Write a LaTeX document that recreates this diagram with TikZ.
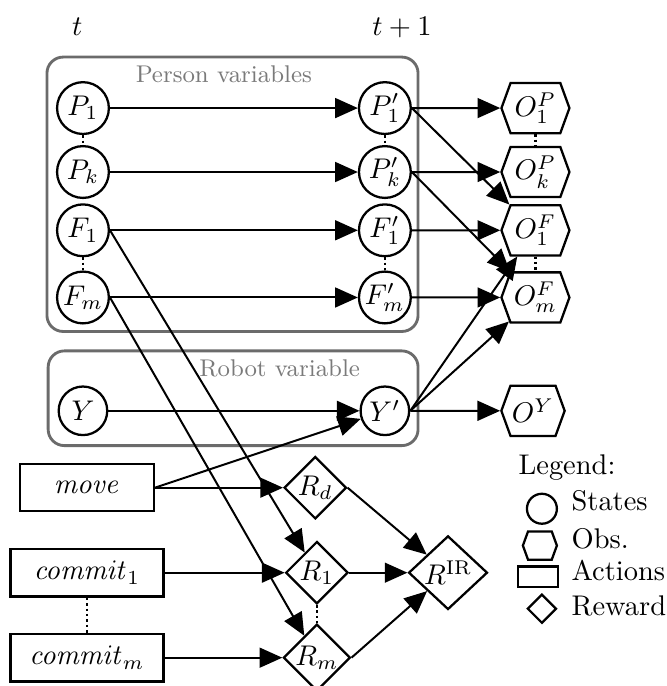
\documentclass[tikz,border=0pt]{standalone}
\usepackage{amsmath}
\usepackage{tikz}
\usetikzlibrary{positioning,arrows.meta,calc,shapes.geometric,shapes.symbols}
\definecolor{cGroup}{HTML}{6B6B6B}
\definecolor{cGroupTxt}{HTML}{7A7A7A}
\tikzset{
  state/.style={circle,draw,line width=0.8pt,minimum size=6.4mm,inner sep=0pt},
  obs/.style={signal,signal to=east and west,signal pointer angle=140,draw,line width=0.8pt,minimum width=8.4mm,minimum height=6.2mm,inner sep=0.5pt},
  act/.style={rectangle,draw,line width=0.8pt,minimum width=18.9mm,minimum height=5.9mm,inner sep=1pt},
  rew/.style={diamond,aspect=1,draw,line width=0.8pt,minimum size=7.7mm,inner sep=0pt},
  group/.style={rounded corners=2mm,draw=cGroup,line width=1pt},
  grplbl/.style={text=cGroupTxt,font=\fontsize{8.5}{10}\selectfont,inner sep=0pt},
  legtxt/.style={anchor=west,inner sep=0pt},
  arr/.style={-{Triangle[length=2.8mm,width=2.45mm]},line width=0.7pt},
  dotl/.style={densely dotted,line width=0.9pt}}
\begin{document}
\begin{tikzpicture}[on grid,node distance=7.9mm and 37.3mm]
\useasboundingbox (-10.25mm,13.35mm) rectangle (72.1mm,-71.4mm);
\node[state] (p1) at (0,0) {$P_1$};
\node[state, below=7.9mm of p1] (pk) {$P_k$};
\node[state, below=7.2mm of pk] (f1) {$F_1$};
\node[state, below=8.3mm of f1] (fm) {$F_m$};
\node[state, below=14mm of fm, minimum size=6mm] (y) {$Y$};
\node[state, right=of p1] (p1n) {$P'_1$};
\node[state, right=of pk] (pkn) {$P'_k$};
\node[state, right=of f1] (f1n) {$F'_1$};
\node[state, right=of fm] (fmn) {$F'_m$};
\node[state, right=of y, minimum size=6mm] (yn) {$Y'$};
\node[obs, right=18.6mm of p1n] (op1) {$O^P_1$};
\node[obs, right=18.6mm of pkn] (opk) {$O^P_k$};
\node[obs, right=18.6mm of f1n] (of1) {$O^F_1$};
\node[obs, right=18.6mm of fmn] (ofm) {$O^F_m$};
\node[obs, right=18.3mm of yn, minimum width=7.8mm] (oy) {$O^Y$};
\node[above=10mm of p1, xshift=-0.7mm] (tnow) {$t$};
\node[above=10mm of p1n, xshift=2.1mm] (tnext) {$t+1$};
\node[act, below=9.5mm of y, xshift=0.5mm, minimum width=16.5mm, minimum height=5.8mm] (move) {$\mathit{move}$};
\node[act, below=10.5mm of move] (com1) {$\mathit{commit}_1$};
\node[act, below=10.5mm of com1] (comm) {$\mathit{commit}_m$};
\node[rew, right=28.2mm of move] (rd) {$R_d$};
\node[rew, right=28.4mm of com1] (r1) {$R_1$};
\node[rew, right=28.4mm of comm] (rm) {$R_m$};
\node[rew, right=16.2mm of r1, minimum width=9.75mm, minimum height=9.1mm] (rir) {$R^{\mathrm{IR}}$};
\draw[group] ($(p1)+(-4.45mm,6.3mm)$) rectangle ($(fmn)+(4.1mm,-4.2mm)$);
\draw[group] ($(y)+(-4.3mm,7.4mm)$) rectangle ($(yn)+(4.1mm,-4.3mm)$);
\node[grplbl] (perlbl) at ($(p1)+(17.4mm,4.2mm)$) {Person variables};
\node[grplbl] (roblbl) at ($(y)+(24.3mm,5.3mm)$) {Robot variable};
\node (leg) at ($(oy)+(4.2mm,-7.05mm)$) {Legend:};
\node[state, minimum size=3.7mm] (lsta) at ($(leg)+(-3.1mm,-5.05mm)$) {};
\node[obs, minimum width=4.2mm, minimum height=3.5mm] (lobs) at ($(leg)+(-3.35mm,-9.6mm)$) {};
\node[act, minimum width=4.9mm, minimum height=2.5mm] (lact) at ($(leg)+(-3.6mm,-13.45mm)$) {};
\node[rew, minimum size=3.6mm] (lrew) at ($(leg)+(-3.1mm,-17.4mm)$) {};
\node[legtxt] (lstatxt) at ($(leg)+(0.5mm,-4.07mm)$) {States};
\node[legtxt] (lobstxt) at ($(leg)+(0.5mm,-8.77mm)$) {Obs.};
\node[legtxt] (lacttxt) at ($(leg)+(0.5mm,-12.7mm)$) {Actions};
\node[legtxt] (lrewtxt) at ($(leg)+(0.5mm,-17.05mm)$) {Reward};
\draw[arr] (p1)--(p1n); \draw[arr] (pk)--(pkn); \draw[arr] (f1)--(f1n); \draw[arr] (fm)--(fmn); \draw[arr] (y)--(yn);
\draw[arr] (p1n)--(op1); \draw[arr] (pkn)--(opk); \draw[arr] (f1n)--(of1); \draw[arr] (fmn)--(ofm); \draw[arr] (yn)--(oy);
\draw[arr] (p1n.east)--(of1); \draw[arr] (pkn.east)--(ofm); \draw[arr] (yn.east)--(of1); \draw[arr] (yn.east)--(ofm);
\draw[arr] (move.east)--(yn); \draw[arr] (move)--(rd); \draw[arr] (f1.east)--(r1); \draw[arr] (fm.east)--(rm);
\draw[arr] (com1)--(r1); \draw[arr] (comm)--(rm);
\draw[arr] (rd.east)--(rir); \draw[arr] (r1)--(rir); \draw[arr] (rm.east)--(rir);
\draw[dotl] (p1.south)--(pk.north); \draw[dotl] (f1.south)--(fm.north); \draw[dotl] (p1n.south)--(pkn.north); \draw[dotl] (f1n.south)--(fmn.north);
\draw[dotl] (op1.south)--(opk.north); \draw[dotl] (of1.south)--(ofm.north); \draw[dotl] (r1.south)--(rm.north); \draw[dotl] (com1.south)--(comm.north);
\end{tikzpicture}
\end{document}
